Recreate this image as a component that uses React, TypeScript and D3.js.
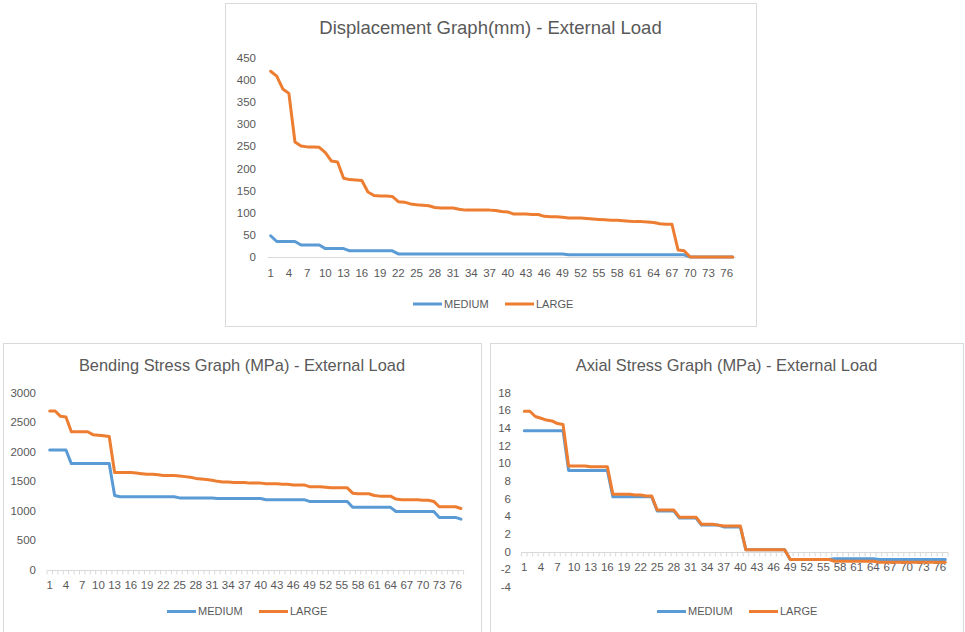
import React from "react";
import * as d3 from "d3";

// Node numbers along the member (category axis)
const categories: number[] = Array.from({ length: 77 }, (_, i) => i + 1);

const seriesNames = ["MEDIUM", "LARGE"];
const seriesColors = ["#5B9BD5", "#ED7D31"];

// Displacement (mm)
const dispMedium = [
  48, 35, 35, 35, 35, 27, 27, 27, 27, 19, 19, 19, 19, 14, 14, 14, 14, 14, 14, 14,
  14, 7, 7, 7, 7, 7, 7, 7, 7, 7, 7, 7, 7, 7, 7, 7, 7, 7, 7, 7,
  7, 7, 7, 7, 7, 7, 7, 7, 7, 5, 5, 5, 5, 5, 5, 5, 5, 5, 5, 5,
  5, 5, 5, 5, 5, 5, 5, 5, 5, 0, 0, 0, 0, 0, 0, 0, 0,
];
const dispLarge = [
  420, 409, 380, 370, 260, 251, 249, 249, 248, 236, 217, 215, 178, 175, 174, 173, 147, 139, 138, 138,
  137, 125, 124, 120, 118, 117, 116, 112, 111, 111, 111, 108, 106, 106, 106, 106, 106, 105, 103, 102,
  97, 97, 97, 96, 96, 92, 91, 91, 90, 88, 88, 88, 87, 86, 85, 84, 83, 83, 82, 81,
  80, 80, 79, 78, 75, 74, 74, 16, 14, 0, 0, 0, 0, 0, 0, 0, 0,
];
const dispTicks = [0, 50, 100, 150, 200, 250, 300, 350, 400, 450];

// Bending stress (MPa)
const bendMedium = [
  2030, 2030, 2030, 2030, 1800, 1800, 1800, 1800, 1800, 1800, 1800, 1800, 1260, 1240, 1240, 1240, 1240, 1240, 1240, 1240,
  1240, 1240, 1240, 1240, 1220, 1220, 1220, 1220, 1220, 1220, 1220, 1210, 1210, 1210, 1210, 1210, 1210, 1210, 1210, 1210,
  1190, 1190, 1190, 1190, 1190, 1190, 1190, 1190, 1160, 1160, 1160, 1160, 1160, 1160, 1160, 1160, 1060, 1060, 1060, 1060,
  1060, 1060, 1060, 1060, 990, 990, 990, 990, 990, 990, 990, 990, 890, 890, 890, 890, 860,
];
const bendLarge = [
  2690, 2690, 2600, 2590, 2340, 2340, 2340, 2340, 2290, 2280, 2270, 2260, 1650, 1650, 1650, 1650, 1640, 1630, 1620, 1620,
  1610, 1600, 1600, 1600, 1590, 1580, 1570, 1550, 1540, 1530, 1520, 1500, 1490, 1490, 1480, 1480, 1480, 1470, 1470, 1470,
  1460, 1460, 1460, 1450, 1450, 1440, 1440, 1440, 1410, 1410, 1410, 1400, 1390, 1390, 1390, 1390, 1300, 1290, 1290, 1290,
  1260, 1250, 1250, 1250, 1200, 1190, 1190, 1190, 1190, 1180, 1180, 1160, 1070, 1070, 1070, 1070, 1040,
];
const bendTicks = [0, 500, 1000, 1500, 2000, 2500, 3000];

// Axial stress (MPa)
const axialMedium = [
  13.7, 13.7, 13.7, 13.7, 13.7, 13.7, 13.7, 13.7, 9.2, 9.2, 9.2, 9.2, 9.2, 9.2, 9.2, 9.2, 6.2, 6.2, 6.2, 6.2,
  6.2, 6.2, 6.2, 6.2, 4.6, 4.6, 4.6, 4.6, 3.8, 3.8, 3.8, 3.8, 3.0, 3.0, 3.0, 3.0, 2.8, 2.8, 2.8, 2.8,
  0.2, 0.2, 0.2, 0.2, 0.2, 0.2, 0.2, 0.2, -0.9, -0.9, -0.9, -0.9, -0.9, -0.9, -0.9, -0.9, -0.8, -0.8, -0.8, -0.8,
  -0.8, -0.8, -0.8, -0.8, -0.9, -0.9, -0.9, -0.9, -0.9, -0.9, -0.9, -0.9, -0.9, -0.9, -0.9, -0.9, -0.9,
];
const axialLarge = [
  15.9, 15.9, 15.3, 15.1, 14.9, 14.8, 14.5, 14.4, 9.7, 9.7, 9.7, 9.7, 9.6, 9.6, 9.6, 9.6, 6.5, 6.5, 6.5, 6.5,
  6.4, 6.4, 6.3, 6.3, 4.7, 4.7, 4.7, 4.7, 3.9, 3.9, 3.9, 3.9, 3.1, 3.1, 3.1, 3.0, 2.9, 2.9, 2.9, 2.9,
  0.2, 0.2, 0.2, 0.2, 0.2, 0.2, 0.2, 0.2, -0.9, -0.9, -0.9, -0.9, -0.9, -0.9, -0.9, -0.9, -1.1, -1.1, -1.1, -1.1,
  -1.1, -1.1, -1.1, -1.1, -1.2, -1.2, -1.2, -1.2, -1.2, -1.2, -1.2, -1.2, -1.2, -1.2, -1.2, -1.2, -1.2,
];
const axialTicks = [-4, -2, 0, 2, 4, 6, 8, 10, 12, 14, 16, 18];

const FONT = "'Liberation Sans', Arial, sans-serif";
const TEXT = "#595959";
const GRID = "#d9d9d9";

type Rect = { x: number; y: number; w: number; h: number };

type ChartProps = {
  title: string;
  titleSize: number;
  box: Rect;
  titleY: number;
  plotLeft: number;
  plotRight: number;
  yTop: number;
  yBottom: number;
  domain: [number, number];
  ticks: number[];
  series: number[][];
  showTickMarks: boolean;
  labelRight: number;
  xLabelOffset: number;
  legendY: number;
  legendX: number;
};

function LineChart(p: ChartProps) {
  const x = d3
    .scaleBand<number>()
    .domain(categories)
    .range([p.plotLeft, p.plotRight]);
  const y = d3.scaleLinear().domain(p.domain).range([p.yBottom, p.yTop]);
  const cx = (c: number) => (x(c) as number) + x.bandwidth() / 2;
  const line = d3
    .line<number>()
    .x((_, i) => cx(categories[i]))
    .y((v) => y(v));
  const axisY = y(0);
  const xLabels = categories.filter((c) => (c - 1) % 3 === 0);
  const boundaries = categories.map((c) => x(c) as number).concat([p.plotRight]);

  // legend layout: swatch + text per series
  const swatch = 29;
  const widths = [48, 35];
  let lx = p.legendX;
  const legendItems = seriesNames.map((name, i) => {
    const item = { name, x: lx, color: seriesColors[i] };
    lx += swatch + widths[i] + 15;
    return item;
  });

  return (
    <g>
      <rect
        x={p.box.x + 0.5}
        y={p.box.y + 0.5}
        width={p.box.w}
        height={p.box.h}
        fill="#fff"
        stroke={GRID}
        strokeWidth={1}
      />
      <text
        x={p.box.x + p.box.w / 2}
        y={p.titleY}
        textAnchor="middle"
        fontFamily={FONT}
        fontSize={p.titleSize}
        fill={TEXT}
      >
        {p.title}
      </text>
      {p.ticks.map((t) => (
        <text
          key={t}
          x={p.labelRight}
          y={y(t)}
          dy="0.35em"
          textAnchor="end"
          fontFamily={FONT}
          fontSize={11.5}
          fill={TEXT}
        >
          {t}
        </text>
      ))}
      <line
        x1={p.plotLeft}
        x2={p.plotRight}
        y1={Math.round(axisY) + 0.5}
        y2={Math.round(axisY) + 0.5}
        stroke={GRID}
        strokeWidth={1}
      />
      {p.showTickMarks &&
        boundaries.map((bx, i) => (
          <line
            key={i}
            x1={bx}
            x2={bx}
            y1={Math.round(axisY) + 0.5}
            y2={Math.round(axisY) + 4.5}
            stroke={GRID}
            strokeWidth={1}
          />
        ))}
      {xLabels.map((c) => (
        <text
          key={c}
          x={cx(c)}
          y={axisY + p.xLabelOffset}
          textAnchor="middle"
          fontFamily={FONT}
          fontSize={11.5}
          fill={TEXT}
        >
          {c}
        </text>
      ))}
      {p.series.map((vals, i) => (
        <path
          key={i}
          d={line(vals) || ""}
          fill="none"
          stroke={seriesColors[i]}
          strokeWidth={3}
          strokeLinejoin="round"
          strokeLinecap="round"
        />
      ))}
      {legendItems.map((it) => (
        <g key={it.name}>
          <line
            x1={it.x}
            x2={it.x + swatch}
            y1={p.legendY}
            y2={p.legendY}
            stroke={it.color}
            strokeWidth={3}
          />
          <text
            x={it.x + swatch + 2}
            y={p.legendY}
            dy="0.35em"
            fontFamily={FONT}
            fontSize={11}
            fill={TEXT}
          >
            {it.name}
          </text>
        </g>
      ))}
    </g>
  );
}

export default function App() {
  return (
    <div style={{ position: "fixed", left: 0, top: 0 }}>
      <svg width={965} height={632} style={{ display: "block", background: "#fff" }}>
        <LineChart
          title="Displacement Graph(mm) - External Load"
          titleSize={18.5}
          box={{ x: 225, y: 3, w: 531, h: 323 }}
          titleY={34}
          plotLeft={267.6}
          plotRight={735.8}
          yTop={58}
          yBottom={257}
          domain={[0, 450]}
          ticks={dispTicks}
          series={[dispMedium, dispLarge]}
          showTickMarks={false}
          labelRight={256}
          xLabelOffset={20}
          legendY={304}
          legendX={413}
        />
        <LineChart
          title="Bending Stress Graph (MPa) - External Load"
          titleSize={16.4}
          box={{ x: 3, y: 343, w: 478, h: 300 }}
          titleY={371}
          plotLeft={47}
          plotRight={463.6}
          yTop={392.7}
          yBottom={570}
          domain={[0, 3000]}
          ticks={bendTicks}
          series={[bendMedium, bendLarge]}
          showTickMarks={true}
          labelRight={36}
          xLabelOffset={19}
          legendY={611.5}
          legendX={167}
        />
        <LineChart
          title="Axial Stress Graph (MPa) - External Load"
          titleSize={16.4}
          box={{ x: 490, y: 343, w: 473, h: 300 }}
          titleY={371}
          plotLeft={521.5}
          plotRight={948.1}
          yTop={392.7}
          yBottom={586.9}
          domain={[-4, 18]}
          ticks={axialTicks}
          series={[axialMedium, axialLarge]}
          showTickMarks={true}
          labelRight={511}
          xLabelOffset={19}
          legendY={611.5}
          legendX={657}
        />
      </svg>
    </div>
  );
}
